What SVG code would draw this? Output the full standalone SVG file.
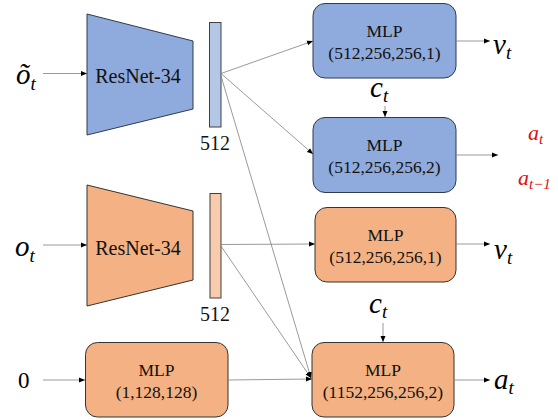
<svg xmlns="http://www.w3.org/2000/svg" width="558" height="420" viewBox="0 0 558 420">
<defs>
<marker id="ah" markerWidth="7" markerHeight="6" refX="6" refY="3" orient="auto" markerUnits="userSpaceOnUse">
<path d="M0,0.5 L6,3 L0,5.5 Z" fill="#000"/>
</marker>
<style>
.blue{fill:#8FAADC;stroke:#2F3B4C;stroke-width:1}
.bluebar{fill:#B4C7E7;stroke:#404040;stroke-width:1}
.orange{fill:#F4B183;stroke:#333;stroke-width:1}
.orangebar{fill:#F8CBAD;stroke:#404040;stroke-width:1}
.lbl{font-family:"Liberation Serif","Times New Roman",serif;font-size:17.5px;fill:#111;text-anchor:middle}
.res{font-family:"Liberation Serif","Times New Roman",serif;font-size:20px;fill:#111;text-anchor:middle}
.math{font-family:"Liberation Serif","DejaVu Serif",serif;font-style:italic;font-size:29px;fill:#000}
.sub{font-size:19px}
.red{font-family:"Liberation Serif","DejaVu Serif",serif;font-style:italic;font-size:22px;fill:#E01010}
.rsub{font-size:15px}
.conn line{stroke:#808080;stroke-width:0.8;fill:none}
.conn line.a{marker-end:url(#ah)}
</style>
</defs>
<rect width="558" height="420" fill="#fff"/>

<g id="input-otilde"><text class="math" x="16" y="84">õ<tspan class="sub" dy="6">t</tspan></text></g>
<g id="input-o"><text class="math" x="15" y="256">o<tspan class="sub" dy="6">t</tspan></text></g>
<g id="input-zero"><text x="18" y="388" font-family="'Liberation Serif',serif" font-size="23" fill="#000">0</text></g>

<g id="resnet-blue">
<polygon class="blue" points="87,14 193,41 193,109 87,135"/>
<text class="res" x="138" y="83">ResNet-34</text>
</g>
<g id="feat-blue">
<rect class="bluebar" x="209.5" y="22.5" width="11.5" height="104.5"/>
<text class="res" x="215" y="150">512</text>
</g>
<g id="resnet-orange">
<polygon class="orange" points="87,185 193,211 193,280 87,306"/>
<text class="res" x="138" y="255">ResNet-34</text>
</g>
<g id="feat-orange">
<rect class="orangebar" x="210" y="193.5" width="11" height="104.5"/>
<text class="res" x="215" y="321">512</text>
</g>

<g id="mlp-blue-v">
<rect class="blue" x="313" y="3.5" width="143" height="74.5" rx="12"/>
<text class="lbl" x="384.5" y="37">MLP</text>
<text class="lbl" x="384.5" y="59">(512,256,256,1)</text>
</g>
<g id="mlp-blue-a">
<rect class="blue" x="313" y="117.5" width="143" height="75" rx="12"/>
<text class="lbl" x="384.5" y="151">MLP</text>
<text class="lbl" x="384.5" y="173">(512,256,256,2)</text>
</g>
<g id="mlp-orange-v">
<rect class="orange" x="315" y="207.5" width="141" height="74.5" rx="12"/>
<text class="lbl" x="385.5" y="241">MLP</text>
<text class="lbl" x="385.5" y="263">(512,256,256,1)</text>
</g>
<g id="mlp-orange-a">
<rect class="orange" x="312" y="342.5" width="142" height="74.5" rx="12"/>
<text class="lbl" x="383" y="376">MLP</text>
<text class="lbl" x="383" y="398">(1152,256,256,2)</text>
</g>
<g id="mlp-zero">
<rect class="orange" x="85.5" y="342.5" width="142.5" height="74.5" rx="12"/>
<text class="lbl" x="156.5" y="376">MLP</text>
<text class="lbl" x="156.5" y="398">(1,128,128)</text>
</g>

<g id="out-v-blue"><text class="math" x="493" y="54">v<tspan class="sub" dy="5">t</tspan></text></g>
<g id="c-blue"><text class="math" x="370" y="97">c<tspan class="sub" dy="5">t</tspan></text></g>
<g id="red-labels">
<text class="red" x="528" y="140">a<tspan class="rsub" dy="4">t</tspan></text>
<text class="red" x="518" y="185">a<tspan class="rsub" dy="4">t−1</tspan></text>
</g>
<g id="out-v-orange"><text class="math" x="494" y="259">v<tspan class="sub" dy="5">t</tspan></text></g>
<g id="c-orange"><text class="math" x="369" y="313">c<tspan class="sub" dy="5">t</tspan></text></g>
<g id="out-a-orange"><text class="math" x="494" y="389">a<tspan class="sub" dy="5">t</tspan></text></g>

<g id="connectors" class="conn">
<line class="a" x1="43" y1="73.5" x2="87" y2="73.5"/>
<line class="a" x1="43" y1="245" x2="87" y2="245"/>
<line class="a" x1="43" y1="380" x2="85" y2="380"/>
<line class="a" x1="221" y1="73.5" x2="313" y2="41"/>
<line class="a" x1="221" y1="73.5" x2="313" y2="154"/>
<line class="a" x1="221" y1="76" x2="311" y2="378"/>
<line class="a" x1="221" y1="244.5" x2="315" y2="244"/>
<line class="a" x1="221" y1="246" x2="311" y2="378"/>
<line class="a" x1="228" y1="380" x2="312" y2="379"/>
<line class="a" x1="456" y1="41" x2="490" y2="41"/>
<line class="a" x1="456" y1="155" x2="498" y2="155"/>
<line class="a" x1="456" y1="244" x2="490" y2="244"/>
<line class="a" x1="454" y1="380" x2="490" y2="380"/>
<line class="a" x1="385" y1="106" x2="385" y2="117"/>
<line class="a" x1="383" y1="323" x2="383" y2="342"/>
</g>
</svg>
